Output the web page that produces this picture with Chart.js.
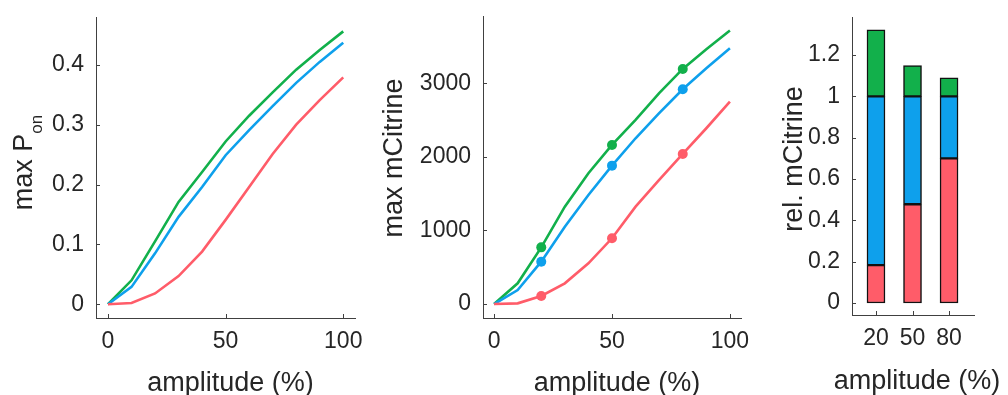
<!DOCTYPE html>
<html>
<head>
<meta charset="utf-8">
<script src="https://cdn.jsdelivr.net/npm/chart.js@4"></script>
<style>
  html, body { margin: 0; padding: 0; background: #fff; }
  #wrap { position: relative; width: 1008px; height: 395px; overflow: hidden; }
  canvas { position: absolute; top: 0; }
</style>
</head>
<body>
<div id="wrap">
  <canvas id="c1" width="380" height="395" style="left:0"></canvas>
  <canvas id="c2" width="390" height="395" style="left:370px"></canvas>
  <canvas id="c3" width="238" height="395" style="left:770px"></canvas>
</div>
<script>
// amplitude sweep (%)
const ampLine = [0, 10, 20, 30, 40, 50, 60, 70, 80, 90, 100];
const ampMarkers = [20, 50, 80];
const ampBars = [20, 50, 80];

// max P_on
const ponGreen = [0, 0.040, 0.105, 0.171, 0.221, 0.272, 0.315, 0.354, 0.392, 0.425, 0.456];
const ponBlue  = [0, 0.029, 0.085, 0.146, 0.196, 0.249, 0.291, 0.331, 0.370, 0.405, 0.437];
const ponRed   = [0, 0.002, 0.018, 0.047, 0.088, 0.141, 0.196, 0.251, 0.300, 0.341, 0.379];

// max mCitrine
const citGreen = [0, 281, 770, 1323, 1776, 2161, 2501, 2864, 3194, 3462, 3715];
const citBlue  = [0, 190, 575, 1051, 1482, 1880, 2252, 2592, 2918, 3203, 3475];
const citRed   = [0, 9, 109, 281, 553, 893, 1323, 1686, 2039, 2388, 2750];

// rel. mCitrine (stacked segments)
const relRed   = [0.183, 0.478, 0.700];
const relBlue  = [0.817, 0.522, 0.300];
const relGreen = [0.322, 0.149, 0.090];

const ticksP = [0, 0.1, 0.2, 0.3, 0.4];
const ticksCit = [0, 1000, 2000, 3000];
const ticksRel = [0, 0.2, 0.4, 0.6, 0.8, 1, 1.2];
const ticksAmp = [0, 50, 100];

const GREEN = '#12b04b';
const BLUE = '#0ea0ec';
const RED = '#ff5c69';
const INK = '#262626';
const AXIS = '#404040';
const FONT = '"Liberation Sans", Helvetica, Arial, sans-serif';

const innerTicks = {
  id: 'innerTicks',
  afterDatasetsDraw(chart) {
    const { ctx, chartArea: a, scales: { x, y } } = chart;
    ctx.save();
    ctx.strokeStyle = AXIS;
    ctx.lineWidth = 1;
    ctx.beginPath();
    for (const t of x.ticks) {
      const px = Math.round(x.getPixelForValue(t.value)) + 0.5;
      ctx.moveTo(px, a.bottom);
      ctx.lineTo(px, a.bottom - 4);
    }
    for (const t of y.ticks) {
      const py = Math.round(y.getPixelForValue(t.value)) + 0.5;
      ctx.moveTo(a.left, py);
      ctx.lineTo(a.left + 4, py);
    }
    ctx.stroke();
    ctx.restore();
  }
};

const axisTitles = {
  id: 'axisTitles',
  afterDraw(chart, args, o) {
    const { ctx, chartArea: a } = chart;
    ctx.save();
    ctx.fillStyle = INK;
    ctx.textBaseline = 'alphabetic';
    ctx.font = '27px ' + FONT;
    ctx.textAlign = 'center';
    ctx.fillText(o.x, (a.left + a.right) / 2 + o.xShift, o.xBase);

    ctx.translate(o.yBase, (a.top + a.bottom) / 2 + o.yShift);
    ctx.rotate(-Math.PI / 2);
    ctx.textAlign = 'left';
    const w1 = ctx.measureText(o.y).width;
    let w2 = 0;
    if (o.ySub) {
      ctx.font = '17px ' + FONT;
      w2 = ctx.measureText(o.ySub).width;
    }
    const x0 = -(w1 + w2) / 2;
    ctx.font = '27px ' + FONT;
    ctx.fillText(o.y, x0, 0);
    if (o.ySub) {
      ctx.font = '17px ' + FONT;
      ctx.fillText(o.ySub, x0 + w1, 10);
    }
    ctx.restore();
  }
};

function axes(xOpt, yOpt, yWidth, xHeight, tickSize) {
  const tickFont = { family: FONT, size: tickSize };
  return {
    x: Object.assign({
      type: 'linear',
      grid: { display: false, drawTicks: false },
      border: { display: true, color: AXIS, width: 1 },
      ticks: { color: INK, font: tickFont, padding: 10, maxRotation: 0, callback: v => String(v) },
      afterFit: s => { s.height = xHeight; s.paddingLeft = 0; s.paddingRight = 0; }
    }, xOpt),
    y: Object.assign({
      type: 'linear',
      grid: { display: false, drawTicks: false },
      border: { display: true, color: AXIS, width: 1 },
      ticks: { color: INK, font: tickFont, padding: 12, callback: v => String(v) },
      afterFit: s => { s.width = yWidth; s.paddingTop = 0; s.paddingBottom = 0; }
    }, yOpt)
  };
}

function fixedTicks(values) {
  return s => { s.ticks = values.map(v => ({ value: v })); };
}

function lineSet(values, color, withMarkers) {
  return {
    data: ampLine.map((a, i) => ({ x: a, y: values[i] })),
    borderColor: color,
    backgroundColor: color,
    borderWidth: 2.6,
    tension: 0,
    pointRadius: withMarkers ? (c => ampMarkers.includes(ampLine[c.dataIndex]) ? 5 : 0) : 0,
    pointBorderWidth: 0,
    pointHoverRadius: 0
  };
}

const common = {
  responsive: false,
  animation: false,
  events: [],
  plugins: { legend: { display: false }, tooltip: { enabled: false } }
};

new Chart(document.getElementById('c1'), {
  type: 'line',
  data: { datasets: [lineSet(ponRed, RED), lineSet(ponBlue, BLUE), lineSet(ponGreen, GREEN)] },
  options: Object.assign({}, common, {
    layout: { padding: { left: 0, top: 17, right: 25, bottom: 0 } },
    scales: axes(
      { min: -5.1, max: 105, afterBuildTicks: fixedTicks(ticksAmp) },
      { min: -0.023, max: 0.48, afterBuildTicks: fixedTicks(ticksP) },
      96, 77, 23),
    plugins: Object.assign({}, common.plugins, {
      axisTitles: { x: 'amplitude (%)', xShift: 5, xBase: 391, y: 'max P', ySub: 'on', yBase: 32, yShift: -5 }
    })
  }),
  plugins: [innerTicks, axisTitles]
});

new Chart(document.getElementById('c2'), {
  type: 'line',
  data: { datasets: [lineSet(citRed, RED, true), lineSet(citBlue, BLUE, true), lineSet(citGreen, GREEN, true)] },
  options: Object.assign({}, common, {
    layout: { padding: { left: 0, top: 16, right: 19, bottom: 0 } },
    scales: axes(
      { min: -4.7, max: 104.7, afterBuildTicks: fixedTicks(ticksAmp) },
      { min: -190, max: 3913, afterBuildTicks: fixedTicks(ticksCit) },
      113, 77, 23),
    plugins: Object.assign({}, common.plugins, {
      axisTitles: { x: 'amplitude (%)', xShift: 5, xBase: 391, y: 'max mCitrine', yBase: 32, yShift: -9 }
    })
  }),
  plugins: [innerTicks, axisTitles]
});

function barSet(values, color) {
  return {
    data: ampBars.map((a, i) => ({ x: a, y: values[i] })),
    backgroundColor: color,
    borderColor: '#111',
    borderWidth: 1.5,
    borderSkipped: false,
    barThickness: 18
  };
}

new Chart(document.getElementById('c3'), {
  type: 'bar',
  data: { datasets: [barSet(relRed, RED), barSet(relBlue, BLUE), barSet(relGreen, GREEN)] },
  options: Object.assign({}, common, {
    layout: { padding: { left: 0, top: 17, right: 34, bottom: 0 } },
    scales: axes(
      { min: 0.3, max: 100.5, stacked: true, offset: false, afterBuildTicks: fixedTicks(ampBars) },
      { min: -0.058, max: 1.384, stacked: true, afterBuildTicks: fixedTicks(ticksRel) },
      82, 80, 23),
    plugins: Object.assign({}, common.plugins, {
      axisTitles: { x: 'amplitude (%)', xShift: 4, xBase: 389, y: 'rel. mCitrine', yBase: 32, yShift: -7 }
    })
  }),
  plugins: [innerTicks, axisTitles]
});
</script>
</body>
</html>
